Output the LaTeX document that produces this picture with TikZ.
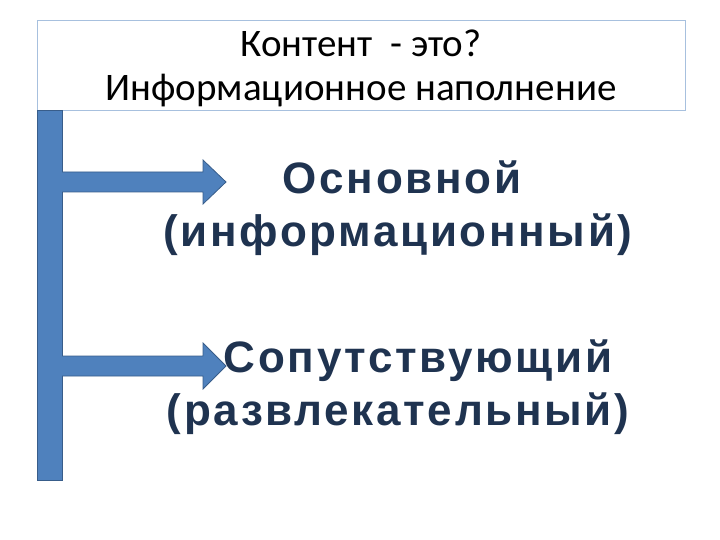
\documentclass[tikz,border=0pt]{standalone}
\usepackage{fontspec}
\setmainfont{Carlito}
\newfontfamily\boldf[LetterSpace=6]{Liberation Sans}
\definecolor{barblue}{HTML}{4F81BD}
\definecolor{bardark}{HTML}{385D8A}
\definecolor{txtblue}{HTML}{1F3350}
\definecolor{frame}{HTML}{A7C0DE}
\begin{document}
\begin{tikzpicture}[x=1pt,y=-1pt,
  blk/.style={fill=barblue,draw=bardark,line width=0.8pt},
  bigtxt/.style={font=\boldf\bfseries\fontsize{44}{53}\selectfont,text=txtblue,align=center}]
\useasboundingbox (0,0) rectangle (720,540);
\node[draw=frame,line width=0.8pt,minimum width=648pt,minimum height=90pt,anchor=north west,inner sep=0pt] (title) at (37,20) {};
\node[font=\fontsize{39}{44}\selectfont,align=center] (tt) at (361,68) {Контент \ - это?\\Информационное наполнение};
\draw[blk] (37,110) rectangle (62,480);
\draw[blk] (62,172) -- (203,172) -- (203,160) -- (226,182) -- (203,204) -- (203,192) -- (62,192);
\draw[blk] (62,356) -- (203,356) -- (203,343) -- (226,366) -- (203,389) -- (203,376) -- (62,376);
\node[bigtxt] (a) at (398,208) {\hspace{8pt}Основной\\(информационный)};
\node[bigtxt] (b) at (398,387) {\hspace{40pt}Сопутствующий\\(развлекательный)};
\end{tikzpicture}
\end{document}
